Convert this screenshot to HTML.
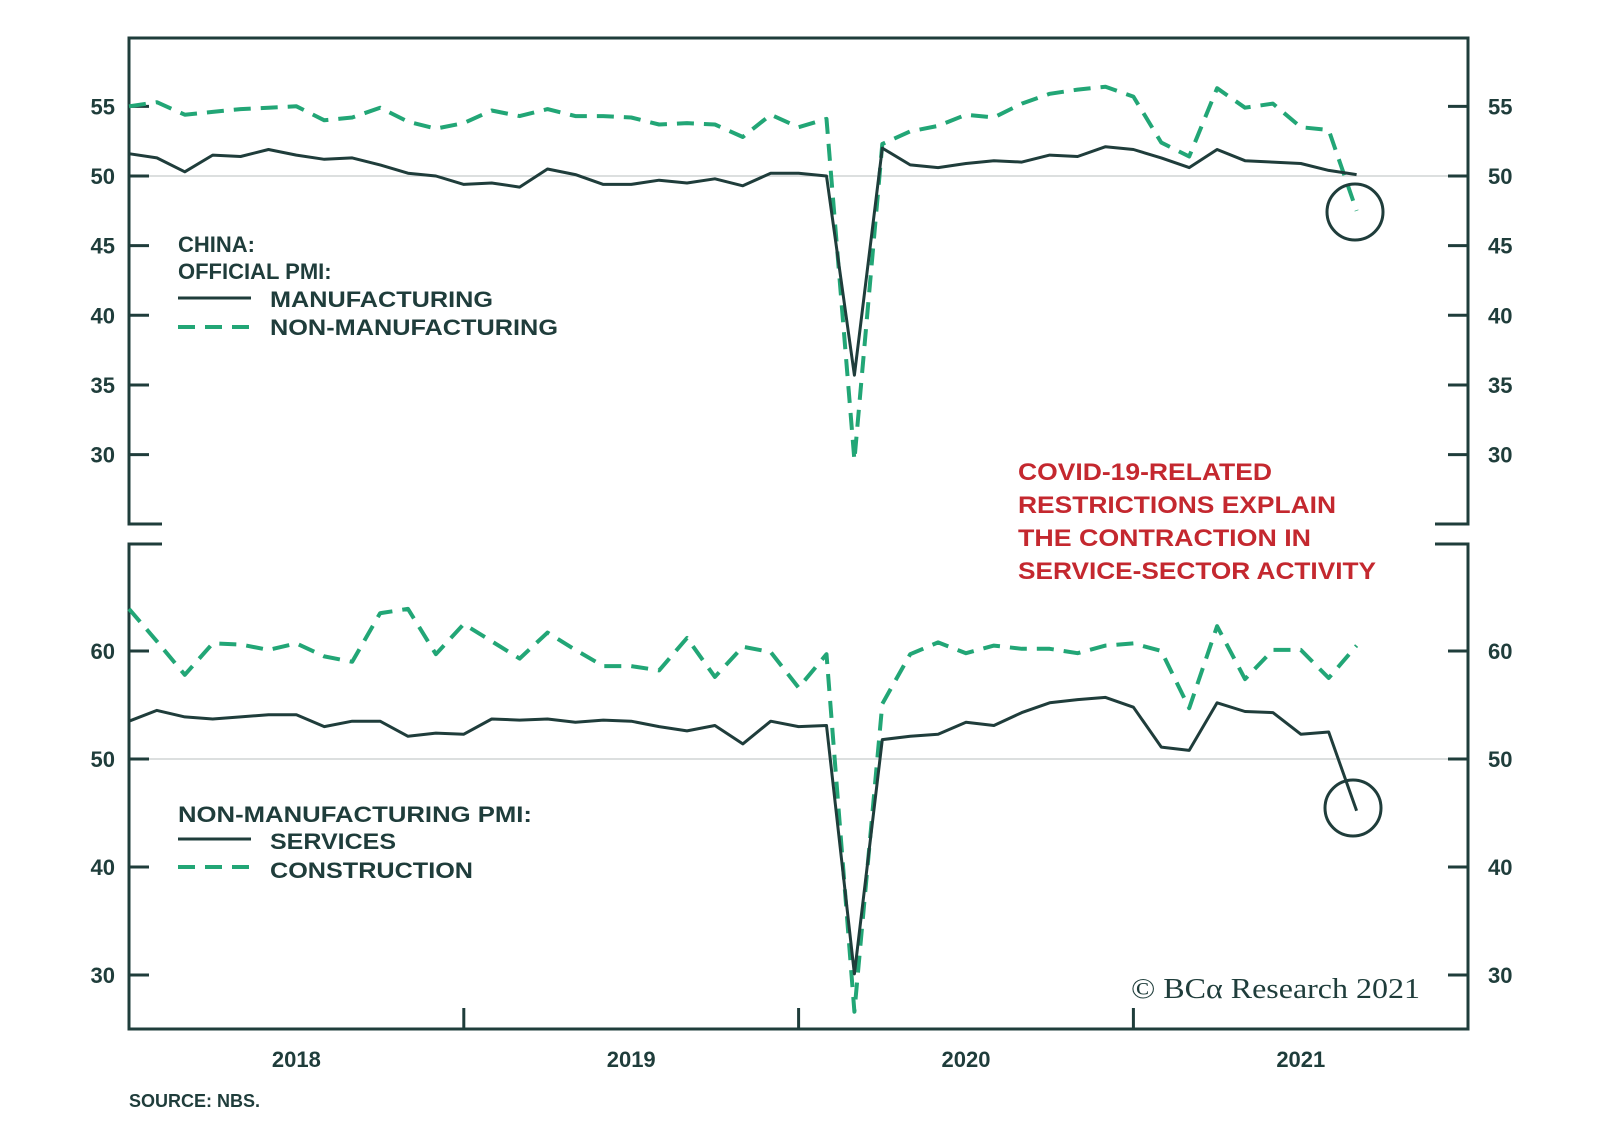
<!DOCTYPE html>
<html><head><meta charset="utf-8">
<style>
html,body{margin:0;padding:0;background:#fff;}
svg{display:block;font-family:"Liberation Sans",Arial,sans-serif;}
</style></head>
<body>
<svg id="chart" width="1600" height="1146" viewBox="0 0 1600 1146" xmlns="http://www.w3.org/2000/svg">
<g id="frame" fill="none" stroke="#1f3d3b" stroke-width="3">
  <polyline points="162,524 129,524 129,38 1468,38 1468,524 1435,524"/>
  <polyline points="162,544 129,544 129,1029 1468,1029 1468,544 1435,544"/>
</g>
<g id="grid"></g>
<g id="axes"></g>
<g id="series"></g>
<g fill="#1f3d3b" font-weight="bold" font-size="22">
  <text x="178" y="252">CHINA:</text>
  <text x="178" y="279">OFFICIAL PMI:</text>
  <line x1="178" y1="298" x2="251" y2="298" stroke="#1f3d3b" stroke-width="3"/>
  <text x="270" y="307" textLength="223" lengthAdjust="spacingAndGlyphs">MANUFACTURING</text>
  <line x1="178" y1="327" x2="251" y2="327" stroke="#22a676" stroke-width="4" stroke-dasharray="17,10"/>
  <text x="270" y="335" textLength="288" lengthAdjust="spacingAndGlyphs">NON-MANUFACTURING</text>
</g>
<g fill="#1f3d3b" font-weight="bold" font-size="22">
  <text x="178" y="822" textLength="354" lengthAdjust="spacingAndGlyphs">NON-MANUFACTURING PMI:</text>
  <line x1="178" y1="839" x2="251" y2="839" stroke="#1f3d3b" stroke-width="3"/>
  <text x="270" y="849" textLength="126" lengthAdjust="spacingAndGlyphs">SERVICES</text>
  <line x1="178" y1="867" x2="251" y2="867" stroke="#22a676" stroke-width="4" stroke-dasharray="17,10"/>
  <text x="270" y="878" textLength="203" lengthAdjust="spacingAndGlyphs">CONSTRUCTION</text>
</g>
<g fill="#c4282f" font-weight="bold" font-size="24">
  <text x="1018" y="480" textLength="254" lengthAdjust="spacingAndGlyphs">COVID-19-RELATED</text>
  <text x="1018" y="513" textLength="318" lengthAdjust="spacingAndGlyphs">RESTRICTIONS EXPLAIN</text>
  <text x="1018" y="546" textLength="293" lengthAdjust="spacingAndGlyphs">THE CONTRACTION IN</text>
  <text x="1018" y="579" textLength="358" lengthAdjust="spacingAndGlyphs">SERVICE-SECTOR ACTIVITY</text>
</g>
<circle cx="1355" cy="212" r="28" fill="none" stroke="#1f3d3b" stroke-width="3"/>
<circle cx="1353" cy="808" r="28" fill="none" stroke="#1f3d3b" stroke-width="3"/>
<text x="1131" y="998" font-family="'Liberation Serif',serif" font-size="29" fill="#1f3d3b" textLength="289" lengthAdjust="spacingAndGlyphs">© BCα Research 2021</text>
<text x="129" y="1107" font-size="18" font-weight="bold" fill="#1f3d3b">SOURCE: NBS.</text>
</svg>
<script>
const yearLabels = ["2018","2019","2020","2021"];
const topTicks = [30,35,40,45,50,55];
const bottomTicks = [30,40,50,60];
const manufacturing = [51.6,51.3,50.3,51.5,51.4,51.9,51.5,51.2,51.3,50.8,50.2,50.0,49.4,49.5,49.2,50.5,50.1,49.4,49.4,49.7,49.5,49.8,49.3,50.2,50.2,50.0,35.7,52.0,50.8,50.6,50.9,51.1,51.0,51.5,51.4,52.1,51.9,51.3,50.6,51.9,51.1,51.0,50.9,50.4,50.1];
const nonManufacturing = [55.0,55.3,54.4,54.6,54.8,54.9,55.0,54.0,54.2,54.9,53.9,53.4,53.8,54.7,54.3,54.8,54.3,54.3,54.2,53.7,53.8,53.7,52.8,54.4,53.5,54.1,29.6,52.3,53.2,53.6,54.4,54.2,55.2,55.9,56.2,56.4,55.7,52.4,51.4,56.3,54.9,55.2,53.5,53.3,47.5];
const services = [53.5,54.5,53.9,53.7,53.9,54.1,54.1,53.0,53.5,53.5,52.1,52.4,52.3,53.7,53.6,53.7,53.4,53.6,53.5,53.0,52.6,53.1,51.4,53.5,53.0,53.1,30.1,51.8,52.1,52.3,53.4,53.1,54.3,55.2,55.5,55.7,54.8,51.1,50.8,55.2,54.4,54.3,52.3,52.5,45.2];
const construction = [63.9,60.9,57.8,60.7,60.6,60.1,60.7,59.5,59.0,63.5,63.9,59.7,62.5,60.9,59.3,61.7,60.1,58.6,58.6,58.2,61.2,57.6,60.4,59.9,56.6,59.7,26.6,55.1,59.7,60.8,59.8,60.5,60.2,60.2,59.8,60.5,60.7,60.0,54.7,62.3,57.4,60.1,60.1,57.5,60.5];

const NS = "http://www.w3.org/2000/svg";
const X0 = 129, DX = 27.9;
function xScale(i){ return X0 + i*DX; }
function yTop(v){ return 176 - (v-50)*13.93; }
function yBot(v){ return 759 - (v-50)*10.8; }
function mk(tag, parent){ const e=document.createElementNS(NS,tag); parent.appendChild(e); return e; }

const grid = document.getElementById('grid');
const axes = document.getElementById('axes');
const series = document.getElementById('series');

[yTop(50), yBot(50)].forEach(y=>{
  const l = mk('line', grid);
  
  
  l.setAttribute('x1',130); l.setAttribute('x2',1467);
  l.setAttribute('y1',y); l.setAttribute('y2',y);
  l.setAttribute('stroke','#c8cccc'); l.setAttribute('stroke-width','1.2');
});

function ticks(vals, yf, panel){
  vals.forEach(v=>{
    const y = yf(v);
    [[129,149],[1448,1468]].forEach(([a,b])=>{
      const t = mk('line', axes);
      
      
      t.setAttribute('x1',a); t.setAttribute('x2',b); t.setAttribute('y1',y); t.setAttribute('y2',y);
      t.setAttribute('stroke','#1f3d3b'); t.setAttribute('stroke-width','3');
    });
    const tl = mk('text', axes);
    
    
    tl.setAttribute('x',115); tl.setAttribute('y',y+8); tl.setAttribute('text-anchor','end');
    tl.setAttribute('font-size','22'); tl.setAttribute('font-weight','bold'); tl.setAttribute('fill','#1f3d3b');
    tl.textContent = v;
    const tr = mk('text', axes);
    
    
    tr.setAttribute('x',1488); tr.setAttribute('y',y+8);
    tr.setAttribute('font-size','22'); tr.setAttribute('font-weight','bold'); tr.setAttribute('fill','#1f3d3b');
    tr.textContent = v;
  });
}
ticks(topTicks, yTop, 'top');
ticks(bottomTicks, yBot, 'bottom');

yearLabels.forEach((lab,k)=>{
  if(k>0){
    const t = mk('line', axes);
    
    
    const x = xScale(12*k);
    t.setAttribute('x1',x); t.setAttribute('x2',x); t.setAttribute('y1',1008); t.setAttribute('y2',1029);
    t.setAttribute('stroke','#1f3d3b'); t.setAttribute('stroke-width','3');
  }
  const tx = mk('text', axes);
  
  
  tx.setAttribute('x', xScale(12*k+6)); tx.setAttribute('y',1067); tx.setAttribute('text-anchor','middle');
  tx.setAttribute('font-size','22'); tx.setAttribute('font-weight','bold'); tx.setAttribute('fill','#1f3d3b');
  tx.textContent = lab;
});

function line(data, yf, name, dashed){
  const p = mk('path', series);
  
  
  p.setAttribute('d', data.map((v,i)=>(i?'L':'M')+xScale(i).toFixed(1)+','+yf(v).toFixed(1)).join(''));
  p.setAttribute('fill','none');
  p.setAttribute('stroke', dashed ? '#22a676' : '#1f3d3b');
  p.setAttribute('stroke-width', dashed ? '4' : '3');
  p.setAttribute('stroke-linejoin','round');
  if(dashed) p.setAttribute('stroke-dasharray','17,10');
}
line(nonManufacturing, yTop, 'non-manufacturing-line', true);
line(manufacturing, yTop, 'manufacturing-line', false);
line(construction, yBot, 'construction-line', true);
line(services, yBot, 'services-line', false);
</script>
</body></html>
